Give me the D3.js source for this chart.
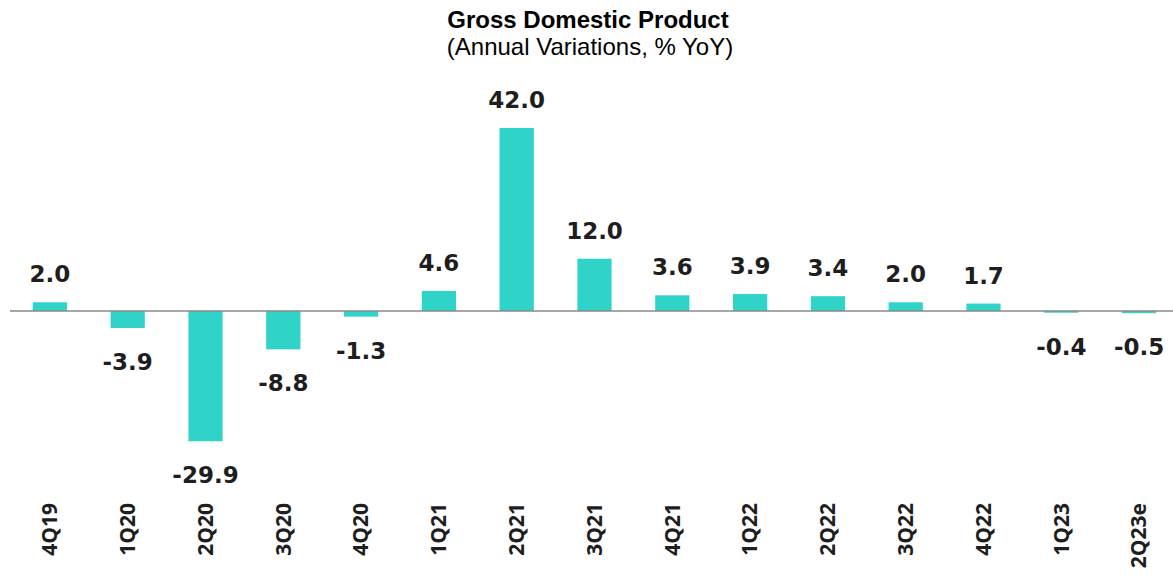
<!DOCTYPE html>
<html>
<head>
<meta charset="utf-8">
<script src="https://cdn.jsdelivr.net/npm/d3@7"></script>
<style>
  html, body { margin: 0; padding: 0; background: #fff; }
  svg { display: block; }
</style>
</head>
<body>
<svg id="chart" width="1173" height="581"></svg>
<script>
// GDP, annual variation (% YoY) by quarter
const quarters = ["4Q19", "1Q20", "2Q20", "3Q20", "4Q20", "1Q21", "2Q21", "3Q21",
                  "4Q21", "1Q22", "2Q22", "3Q22", "4Q22", "1Q23", "2Q23e"];
const growth = [2.0, -3.9, -29.9, -8.8, -1.3, 4.6, 42.0, 12.0,
                3.6, 3.9, 3.4, 2.0, 1.7, -0.4, -0.5];

const titleText = "Gross Domestic Product";
const subtitleText = "(Annual Variations, % YoY)";

const W = 1173, H = 581;
const svg = d3.select("#chart");

const x = d3.scaleBand()
  .domain(quarters)
  .range([11, 1178])
  .paddingInner(0.56)
  .paddingOuter(0.28);

const y = d3.scaleLinear()
  .domain([0, 42])
  .range([311, 128]);

const barColor = "#2fd3c7";
const textColor = "#1e1e1e";
const valueFont = "'DejaVu Sans', sans-serif";
const axisFont = "'Open Sans', 'Lato', sans-serif";

// Title block
svg.append("text")
  .attr("x", 588).attr("y", 28)
  .attr("text-anchor", "middle")
  .style("font-family", "'Liberation Sans', Arial, sans-serif")
  .style("font-weight", "bold")
  .style("font-size", "24px")
  .attr("fill", "#000")
  .text(titleText);

svg.append("text")
  .attr("x", 590).attr("y", 55)
  .attr("text-anchor", "middle")
  .style("font-family", "'Liberation Sans', Arial, sans-serif")
  .style("font-size", "24px")
  .attr("fill", "#000")
  .text(subtitleText);

const data = quarters.map((q, i) => ({ q, v: growth[i] }));

// Bars
svg.append("g").selectAll("rect")
  .data(data)
  .join("rect")
  .attr("x", d => x(d.q))
  .attr("width", x.bandwidth())
  .attr("y", d => Math.min(y(d.v), y(0)))
  .attr("height", d => Math.abs(y(d.v) - y(0)))
  .attr("fill", barColor);

// Zero line
svg.append("line")
  .attr("x1", 10).attr("x2", W)
  .attr("y1", y(0)).attr("y2", y(0))
  .attr("stroke", "#8a8a8a")
  .attr("stroke-width", 1.5);

// Value labels (plain hyphen for negatives)
svg.append("g").selectAll("text")
  .data(data)
  .join("text")
  .attr("x", d => x(d.q) + x.bandwidth() / 2)
  .attr("y", d => d.v >= 0 ? y(d.v) - 20 : y(d.v) + 42)
  .attr("text-anchor", "middle")
  .style("font-family", valueFont)
  .style("font-weight", "bold")
  .style("font-size", "23px")
  .attr("fill", textColor)
  .text(d => d.v.toFixed(1));

// Category axis (rotated labels)
const axis = svg.append("g")
  .attr("transform", "translate(0,503)")
  .call(d3.axisBottom(x).tickSize(0).tickPadding(0));
axis.select(".domain").remove();
axis.selectAll(".tick text")
  .attr("transform", "rotate(-90)")
  .attr("x", 0)
  .attr("y", 0)
  .attr("dy", "0.35em")
  .attr("text-anchor", "end")
  .style("font-family", axisFont)
  .style("font-weight", "bold")
  .style("font-size", "21px")
  .attr("fill", textColor);
</script>
</body>
</html>
